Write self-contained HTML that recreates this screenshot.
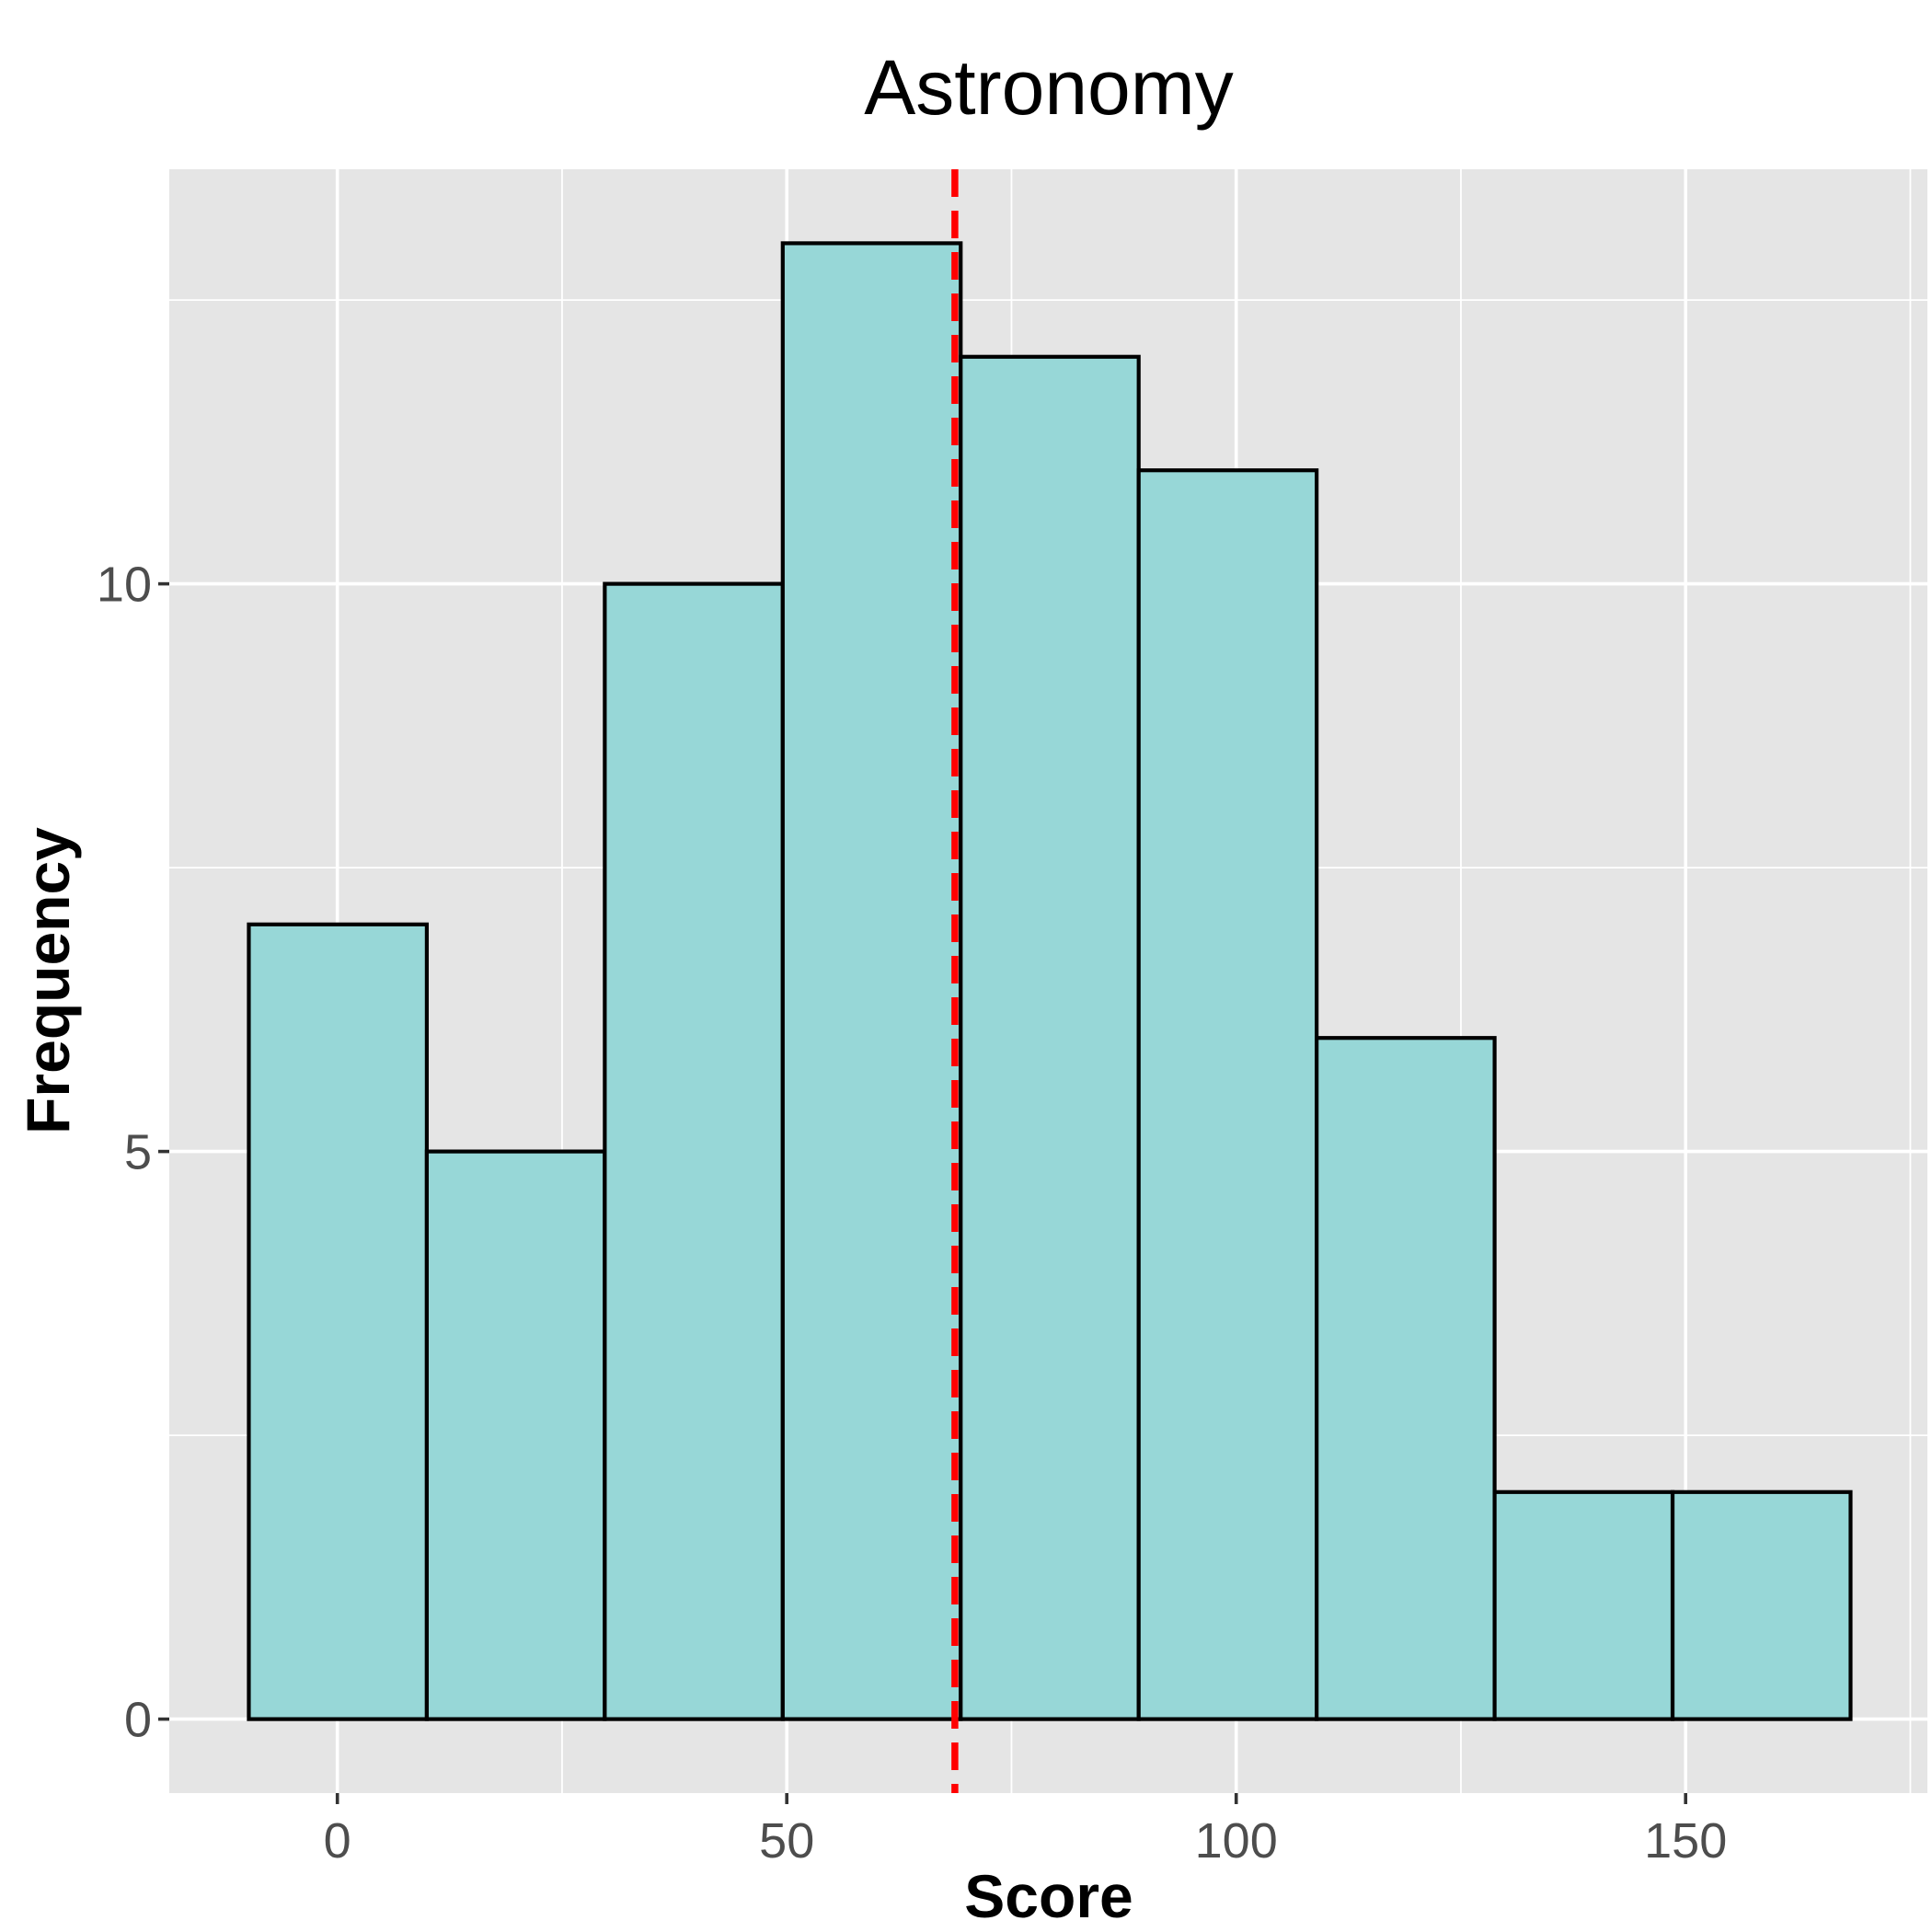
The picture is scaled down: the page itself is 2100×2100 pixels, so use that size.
<!DOCTYPE html>
<html><head><meta charset="utf-8"><style>
html,body{margin:0;padding:0;background:#fff;}
svg{display:block;font-family:"Liberation Sans",Arial,sans-serif;}
</style></head><body>
<svg id="chart" width="2100" height="2100" viewBox="0 0 2100 2100" xmlns="http://www.w3.org/2000/svg">
<text x="1140" y="124" font-size="84" text-anchor="middle" fill="#000">Astronomy</text>
<rect x="184" y="184" width="1911" height="1765" fill="#e5e5e5"/>
<g id="grid"></g>
<g id="bars"></g>
<g id="meanline"></g>
<g id="axes"></g>
<text x="1140" y="2084" font-size="66" font-weight="bold" text-anchor="middle" fill="#000">Score</text>
<text transform="translate(75,1066) rotate(-90)" font-size="66" font-weight="bold" text-anchor="middle" fill="#000">Frequency</text>
</svg>
<script>
const binStart = -9.85;
const binWidth = 19.8;
const counts = [7, 5, 10, 13, 12, 11, 6, 2, 2];
const meanValue = 68.7;
const xTicks = [0, 50, 100, 150];
const xMinor = [25, 75, 125, 175];
const yTicks = [0, 5, 10];
const yMinor = [2.5, 7.5, 12.5];

const NS = "http://www.w3.org/2000/svg";
const PL = 184, PR = 2095, PT = 184, PB = 1949;
const xs = v => 366.7 + v * 9.77;
const ys = v => 1868.6 - v * 123.4;
function mk(tag, attrs, parent){
  const e = document.createElementNS(NS, tag);
  for (const k in attrs) e.setAttribute(k, attrs[k]);
  document.getElementById(parent).appendChild(e);
  return e;
}
xMinor.forEach(v => {
  const e = mk('line', {x1: xs(v), x2: xs(v), y1: PT, y2: PB, stroke: '#fff', 'stroke-width': 1.8}, 'grid');
  
  
});
yMinor.forEach(v => {
  const e = mk('line', {x1: PL, x2: PR, y1: ys(v), y2: ys(v), stroke: '#fff', 'stroke-width': 1.8}, 'grid');
  
  
});
xTicks.forEach(v => {
  const e = mk('line', {x1: xs(v), x2: xs(v), y1: PT, y2: PB, stroke: '#fff', 'stroke-width': 3.6}, 'grid');
  
  
  const t = mk('line', {x1: xs(v), x2: xs(v), y1: PB, y2: PB + 12, stroke: '#333', 'stroke-width': 3.6}, 'axes');
  
  
  const l = mk('text', {x: xs(v), y: 2019, 'font-size': 54, 'text-anchor': 'middle', fill: '#4d4d4d'}, 'axes');
  l.textContent = v;
  
  
});
yTicks.forEach(v => {
  const e = mk('line', {x1: PL, x2: PR, y1: ys(v), y2: ys(v), stroke: '#fff', 'stroke-width': 3.6}, 'grid');
  
  
  const t = mk('line', {x1: PL - 12, x2: PL, y1: ys(v), y2: ys(v), stroke: '#333', 'stroke-width': 3.6}, 'axes');
  
  
  const l = mk('text', {x: PL - 19, y: ys(v) + 19, 'font-size': 54, 'text-anchor': 'end', fill: '#4d4d4d'}, 'axes');
  l.textContent = v;
  
  
});
counts.forEach((c, i) => {
  const x0 = xs(binStart + i * binWidth), x1 = xs(binStart + (i + 1) * binWidth);
  const b = mk('rect', {x: x0, y: ys(c), width: x1 - x0, height: ys(0) - ys(c), fill: '#97d7d7', stroke: '#000', 'stroke-width': 4.2}, 'bars');
  
  
});
const m = mk('line', {x1: xs(meanValue), x2: xs(meanValue), y1: PT, y2: PB, stroke: '#ff0000', 'stroke-width': 7.5, 'stroke-dasharray': '30 15'}, 'meanline');


</script>
</body></html>
